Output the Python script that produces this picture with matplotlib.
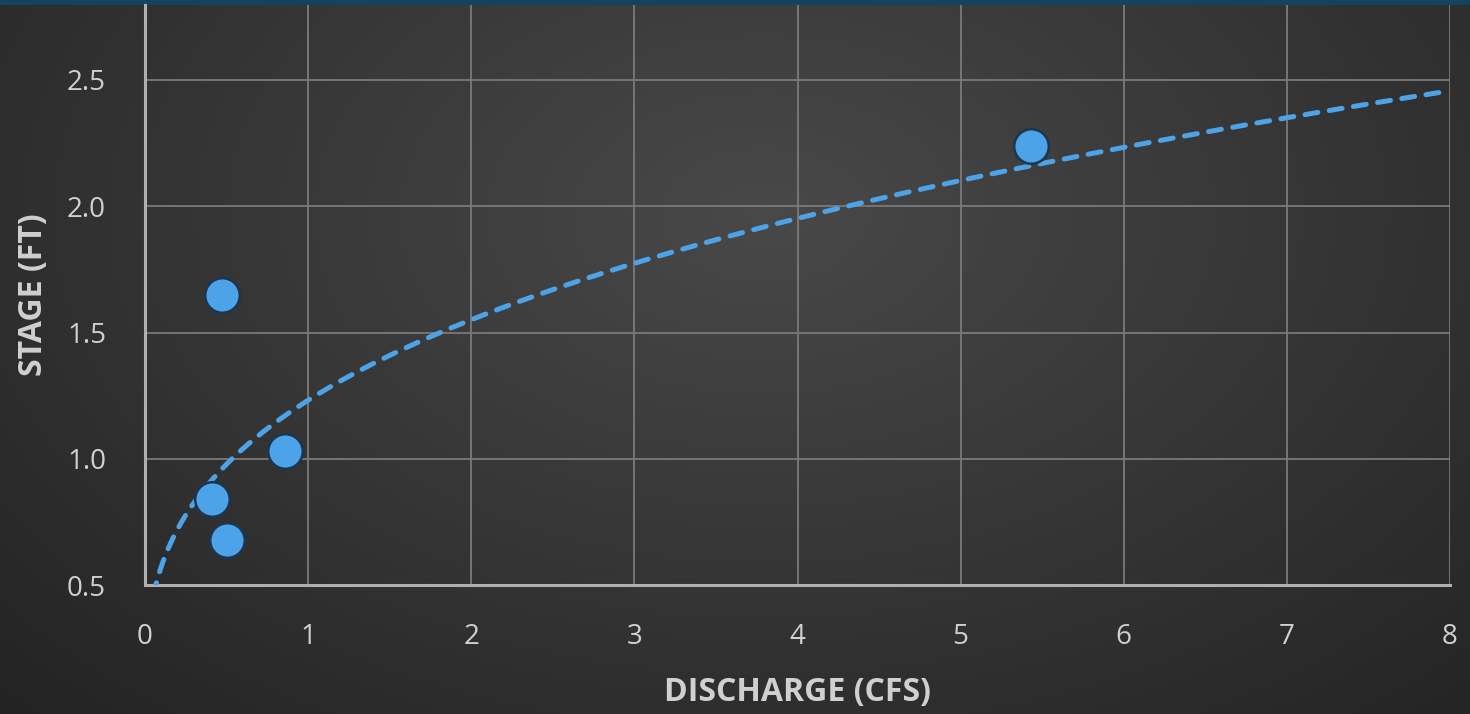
import numpy as np
import matplotlib
matplotlib.use("Agg")
import matplotlib.pyplot as plt

# Data
discharge = [0.47, 0.86, 0.41, 0.50, 5.43]
stage = [1.65, 1.03, 0.84, 0.68, 2.24]
x_ticks = [0, 1, 2, 3, 4, 5, 6, 7, 8]
y_ticks = [0.5, 1.0, 1.5, 2.0, 2.5]
x_label = "DISCHARGE (CFS)"
y_label = "STAGE (FT)"

W, H = 1470, 714
fig = plt.figure(figsize=(W / 100, H / 100), dpi=100)

# Background radial gradient
bg = fig.add_axes([0, 0, 1, 1], zorder=-10)
yy, xx = np.mgrid[0:H, 0:W]
r = np.sqrt(((xx - W * 0.52) / (W * 0.6)) ** 2 + ((yy - H * 0.3) / (H * 0.8)) ** 2)
v = np.clip(0.285 - 0.12 * r, 0.14, 0.29)
img = np.dstack([v, v, v])
img[0:5, :, :] = np.array([0.07, 0.27, 0.38])
bg.imshow(img, aspect="auto", extent=[0, 1, 0, 1], origin="upper")
bg.axis("off")

ax = fig.add_axes([145 / W, 1 - 585 / H, (1450 - 145) / W, (585 - 5) / H])
ax.set_facecolor("none")

blue = "#4da3e8"
# Power trendline (least squares in log space)
b, lna = np.polyfit(np.log(discharge), np.log(stage), 1)
a = np.exp(lna)
xs = np.linspace(0.01, 8, 600)
ys = a * xs ** b
ax.plot(xs, ys, color=blue, lw=3.6, dashes=(2.6, 2.3), zorder=3, dash_capstyle="round")

ax.scatter(discharge, stage, s=620, color=blue, edgecolors="#1c3650", linewidths=1.8, zorder=4)

ax.set_xlim(0, 8)
ax.set_ylim(0.5, 0.5 + 580 / 252.5)
ax.set_xticks(x_ticks)
ax.set_yticks(y_ticks)
ax.set_xticklabels([str(t) for t in x_ticks])
ax.set_yticklabels([f"{t:.1f}" for t in y_ticks])
ax.grid(True, color="#7a7a7a", lw=1.3)
ax.set_axisbelow(True)
for s in ["top", "right"]:
    ax.spines[s].set_visible(False)
for s in ["left", "bottom"]:
    ax.spines[s].set_color("#b0b0b0")
    ax.spines[s].set_linewidth(2.2)
ax.tick_params(axis="x", length=0, colors="#d0d0d0", labelsize=20, pad=27)
ax.tick_params(axis="y", length=0, colors="#d0d0d0", labelsize=20, pad=28)
for lab in ax.get_xticklabels() + ax.get_yticklabels():
    lab.set_family("Open Sans")
ax.set_xlabel(x_label, color="#d0d0d0", fontsize=23, fontweight="bold", family="Open Sans", labelpad=18)
ax.set_ylabel(y_label, color="#d0d0d0", fontsize=23, fontweight="bold", family="Open Sans", labelpad=12)

fig.savefig("out.png", dpi=100)
